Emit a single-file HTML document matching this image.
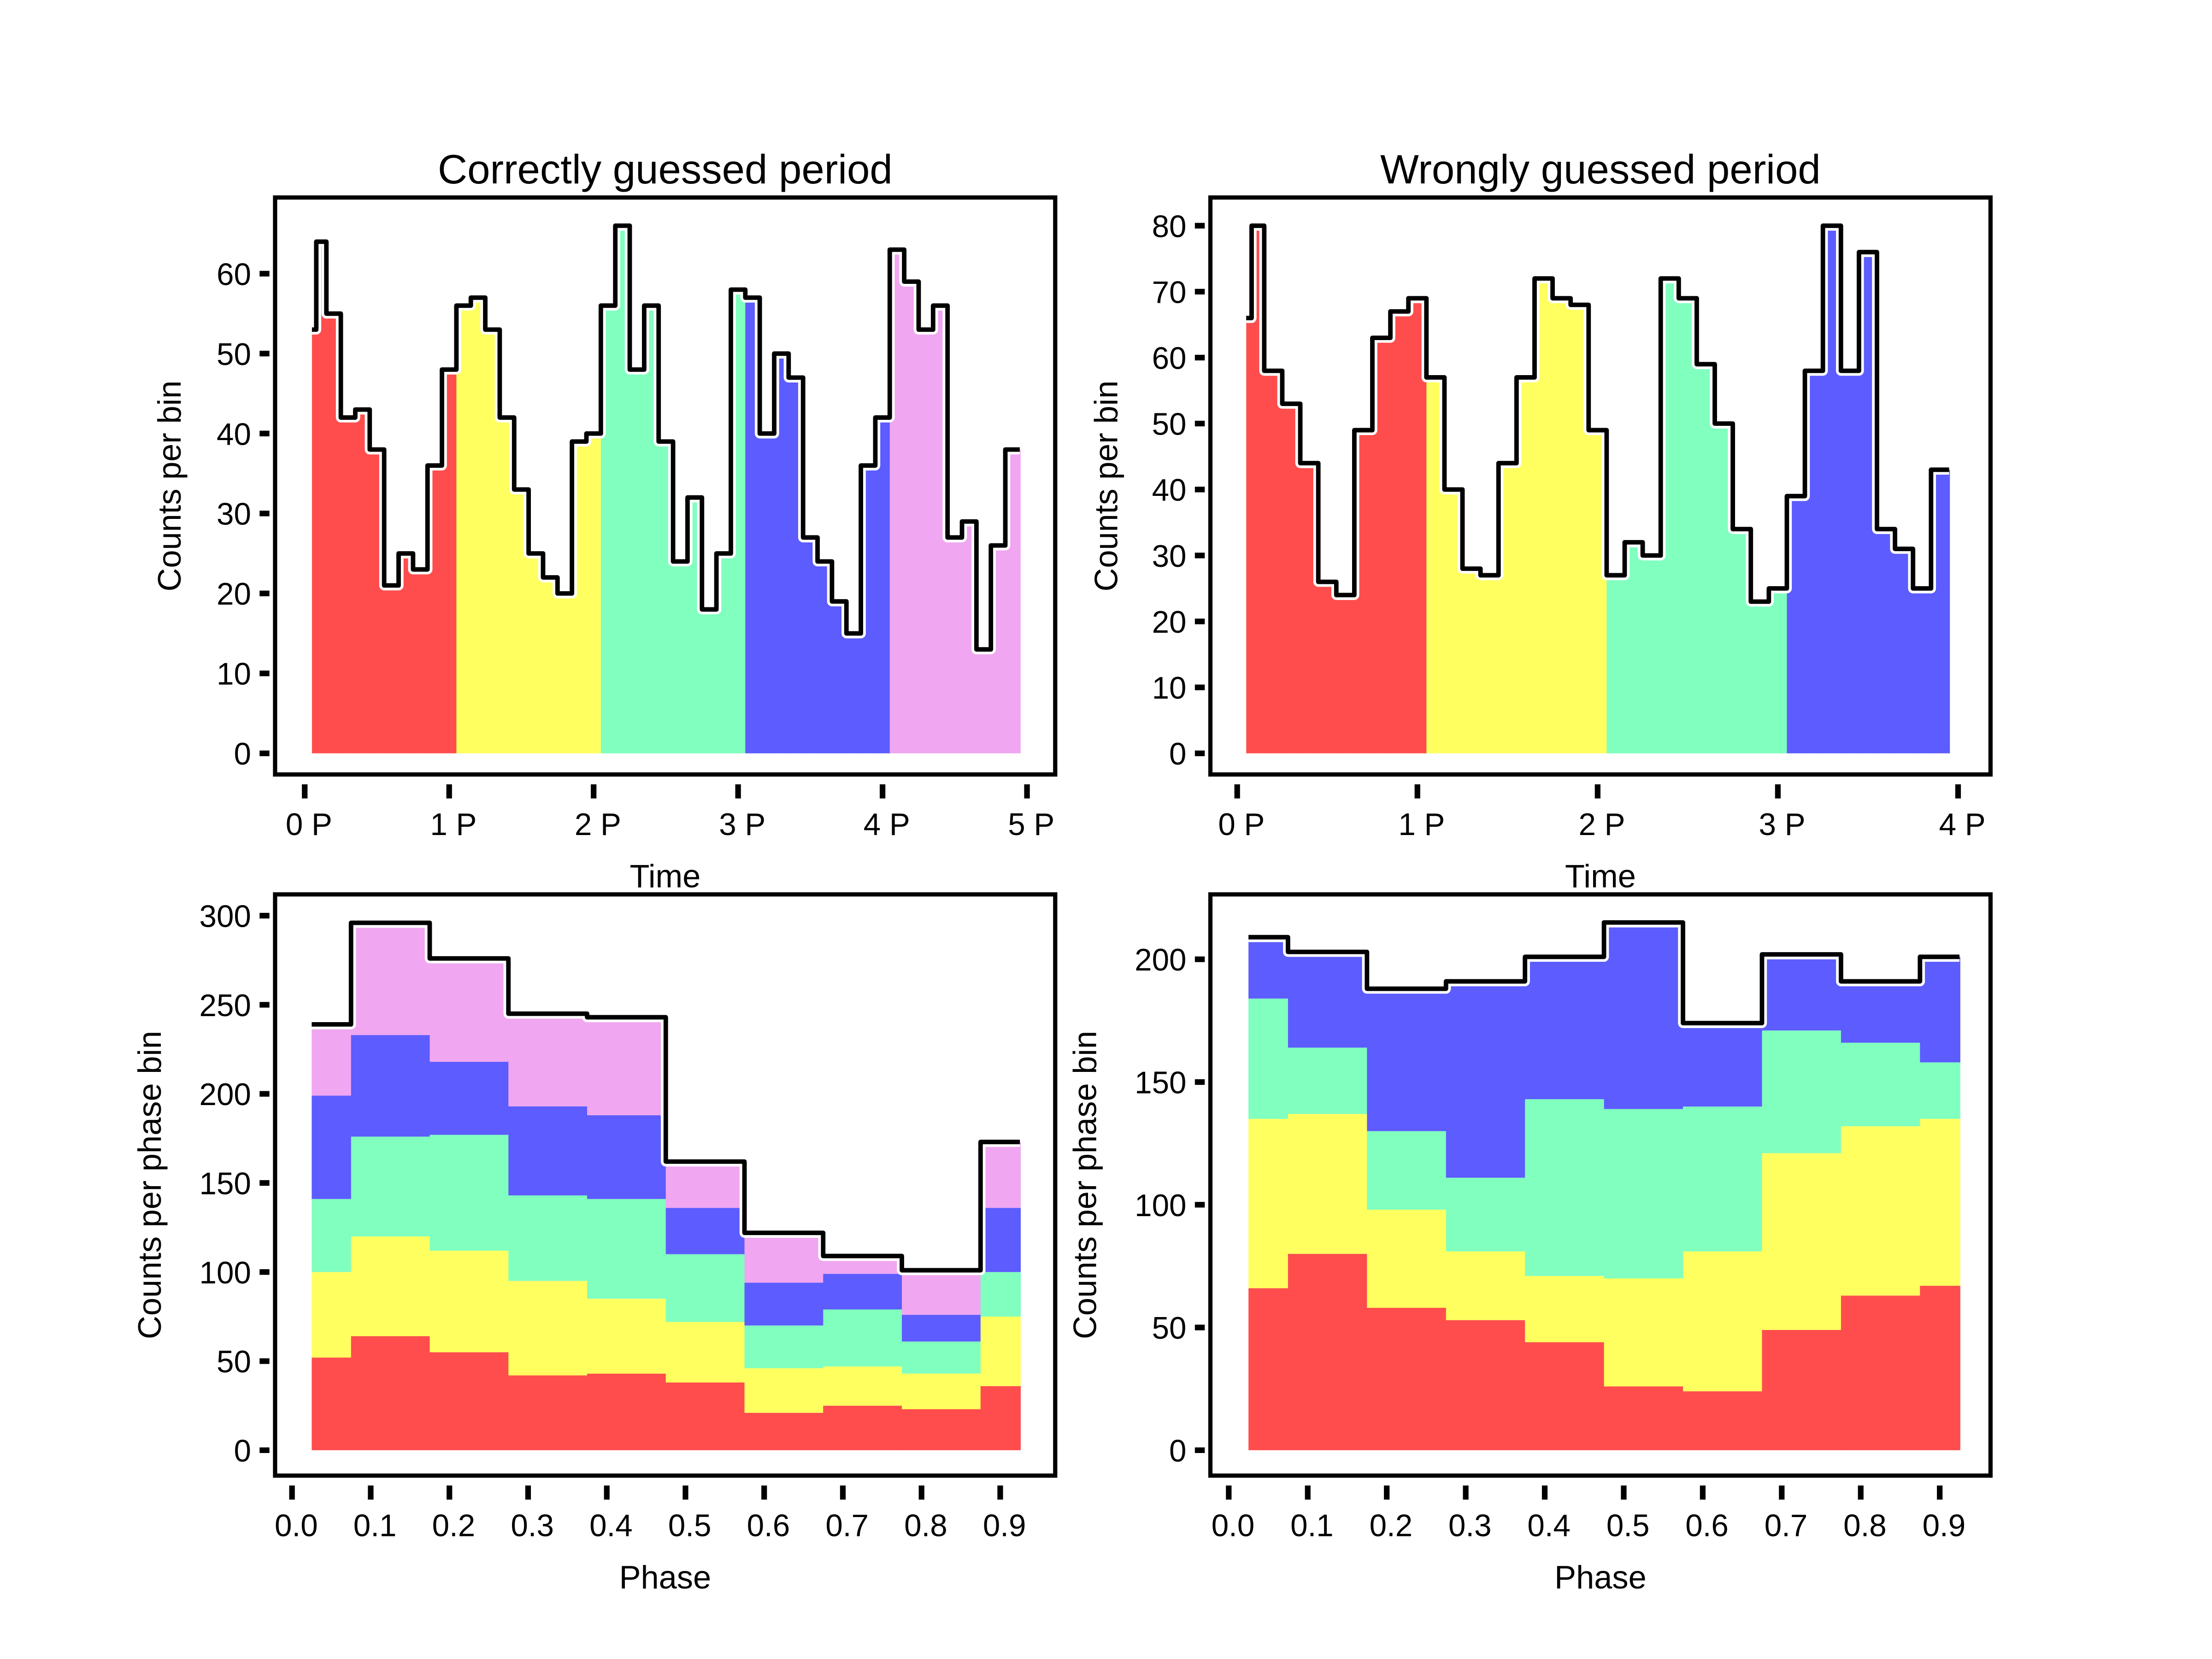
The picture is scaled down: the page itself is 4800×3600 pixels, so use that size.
<!DOCTYPE html>
<html><head><meta charset="utf-8">
<style>
html,body{margin:0;padding:0;background:#fff;}
svg{display:block;}
text{font-family:"Liberation Sans","DejaVu Sans",sans-serif;fill:#000;}
</style></head>
<body>
<svg id="fig" xmlns="http://www.w3.org/2000/svg" width="4800" height="3600" viewBox="0 0 1568 1176">
<rect x="0" y="0" width="1568" height="1176" fill="#fff"/>
</svg>
<script>
// ---- data ----
const colors = ["#ff4d4d","#ffff60","#80ffbf","#5c5cff","#f0a6f0"];
const tlValues = [53,64,55,42,43,38,21,25,23,36, 48,56,57,53,42,33,25,22,20,39, 40,56,66,48,56,39,24,32,18,25, 58,57,40,50,47,27,24,19,15,36, 42,63,59,53,56,27,29,13,26,38];
const trValues = [66,80,58,53,44,26,24,49,63,67, 69,57,40,28,27,44,57,72,69,68, 49,27,32,30,72,69,59,50,34,23, 25,39,58,80,58,76,34,31,25,43];
const blRed = [52,64,55,42,43,38,21,25,23,36];
const blYellow = [48,56,57,53,42,34,25,22,20,39];
const blGreen = [41,56,65,48,56,38,24,32,18,25];
const blBlue = [58,57,41,50,47,26,24,20,15,36];
const blPink = [40,63,58,52,55,26,28,10,25,37];
const brRed = [66,80,58,53,44,26,24,49,63,67];
const brYellow = [69,57,40,28,27,44,57,72,69,68];
const brGreen = [49,27,32,30,72,69,59,50,34,23];
const brBlue = [25,39,58,80,58,76,34,31,25,43];
const phaseEdges = [0.025,0.075,0.175,0.275,0.375,0.475,0.575,0.675,0.775,0.875,0.925];
const tlYTicks = [0,10,20,30,40,50,60];
const trYTicks = [0,10,20,30,40,50,60,70,80];
const blYTicks = [0,50,100,150,200,250,300];
const brYTicks = [0,50,100,150,200];
const tlXTicks = [0,1,2,3,4,5];
const trXTicks = [0,1,2,3,4];
const phaseTicks = [0,0.1,0.2,0.3,0.4,0.5,0.6,0.7,0.8,0.9];

const NS = "http://www.w3.org/2000/svg";
const svg = document.getElementById("fig");
function mk(tag, attrs, parent){
  const e = document.createElementNS(NS, tag);
  for (const k in attrs) e.setAttribute(k, attrs[k]);
  (parent||svg).appendChild(e);
  return e;
}
function txt(s, x, y, size, anchor, name, rot){
  const t = mk("text", {x:x, y:y, "font-size":size, "text-anchor":anchor||"middle"});
  if (rot) t.setAttribute("transform", "rotate(-90 "+x+" "+y+")");
  t.textContent = s;
  
  
  return t;
}

function panel(p){
  const g = mk("g", {});
  
  
  const X = v => p.x0 + (v - p.xmin) * p.xs;
  const Y = v => p.y0 - v * p.ys;
  p.fills(g, X, Y);
  if (p.line){
    const L = p.line;
    let d = "M" + X(L.edges[0]) + "," + Y(L.start);
    for (let i=0;i<L.values.length;i++){
      d += " V" + Y(L.values[i]) + " H" + X(L.edges[i+1]);
    }
    const halo = mk("path", {d:d, fill:"none", stroke:"#fff", "stroke-width":7, "stroke-linejoin":"round"}, g);
    
    
    const ln = mk("path", {d:d, fill:"none", stroke:"#000", "stroke-width":3.2, "stroke-linejoin":"round"}, g);
    
    
  }
  const f = mk("rect", {x:p.bx0, y:p.by0, width:p.bx1-p.bx0, height:p.by1-p.by0, fill:"none", stroke:"#000", "stroke-width":3}, g);
  
  
  p.yticks.forEach(v=>{
    const t = mk("line", {x1:p.bx0-11, x2:p.bx0-4, y1:Y(v), y2:Y(v), stroke:"#000", "stroke-width":4}, g);
    
    
    txt(String(v), p.bx0-17, Y(v)+8, 22, "end", "y-tick-label");
  });
  p.xticks.forEach(v=>{
    const t = mk("line", {x1:X(v), x2:X(v), y1:p.by1+7, y2:p.by1+17, stroke:"#000", "stroke-width":4}, g);
    
    
    txt(p.xfmt(v), X(v)+3, p.by1+43, 22, "middle", "x-tick-label");
  });
  if (p.title) txt(p.title, (p.bx0+p.bx1)/2, 130, 29, "middle", "panel-title");
  txt(p.xlabel, (p.bx0+p.bx1)/2, p.by1+80, 23, "middle", "x-axis-title");
  txt(p.ylabel, p.ylx, (p.by0+p.by1)/2, 23, "middle", "y-axis-title", true);
}

function topEdges(n){
  const e = [0.05, 0.08];
  for (let i=2;i<=n;i++) e.push(0.05 + 0.1*(i-1));
  return e;
}
function topFills(values){
  return function(g, X, Y){
    const e = topEdges(values.length);
    for (let i=0;i<values.length;i++){
      const k = Math.max(0, Math.floor((i-1)/10));
      const r = mk("rect", {x:X(e[i]), y:Y(values[i]), width:Math.max(0,X(e[i+1])-X(e[i]))+0.6, height:Y(0)-Y(values[i]), fill:colors[k]}, g);
      
      
    }
  };
}
function stackFills(layers){
  return function(g, X, Y){
    for (let j=0;j<phaseEdges.length-1;j++){
      let base = 0;
      layers.forEach((arr,k)=>{
        const top = base + arr[j];
        const r = mk("rect", {x:X(phaseEdges[j]), y:Y(top), width:X(phaseEdges[j+1])-X(phaseEdges[j])+0.6, height:Y(base)-Y(top), fill:colors[k]}, g);
        
        
        base = top;
      });
    }
  };
}
function totals(layers){
  return phaseEdges.slice(0,-1).map((_,j)=>layers.reduce((s,a)=>s+a[j],0));
}

const blLayers = [blRed,blYellow,blGreen,blBlue,blPink];
const brLayers = [brRed,brYellow,brGreen,brBlue];
const blTot = totals(blLayers), brTot = totals(brLayers);

panel({name:"panel-correct-time", x0:216, xmin:0, xs:102.4, y0:534, ys:5.667,
  bx0:195, bx1:748, by0:140, by1:549, yticks:tlYTicks, xticks:tlXTicks, xfmt:v=>v+" P",
  title:"Correctly guessed period", xlabel:"Time", ylabel:"Counts per bin", ylx:128,
  fills:topFills(tlValues), line:{edges:topEdges(tlValues.length), values:tlValues, start:tlValues[0]}});
panel({name:"panel-wrong-time", x0:877, xmin:0, xs:127.75, y0:534, ys:4.675,
  bx0:858, bx1:1411, by0:140, by1:549, yticks:trYTicks, xticks:trXTicks, xfmt:v=>v+" P",
  title:"Wrongly guessed period", xlabel:"Time", ylabel:"Counts per bin", ylx:792,
  fills:topFills(trValues), line:{edges:topEdges(trValues.length), values:trValues, start:trValues[0]}});
panel({name:"panel-correct-phase", x0:207, xmin:0, xs:557.8, y0:1028, ys:1.263,
  bx0:195, bx1:748, by0:634, by1:1046, yticks:blYTicks, xticks:phaseTicks, xfmt:v=>v.toFixed(1),
  xlabel:"Phase", ylabel:"Counts per phase bin", ylx:114,
  fills:stackFills(blLayers), line:{edges:phaseEdges, values:blTot, start:blTot[0]}});
panel({name:"panel-wrong-phase", x0:871, xmin:0, xs:560, y0:1028, ys:1.74,
  bx0:858, bx1:1411, by0:634, by1:1046, yticks:brYTicks, xticks:phaseTicks, xfmt:v=>v.toFixed(1),
  xlabel:"Phase", ylabel:"Counts per phase bin", ylx:777,
  fills:stackFills(brLayers), line:{edges:phaseEdges, values:brTot, start:brTot[0]}});
</script>
</body></html>
